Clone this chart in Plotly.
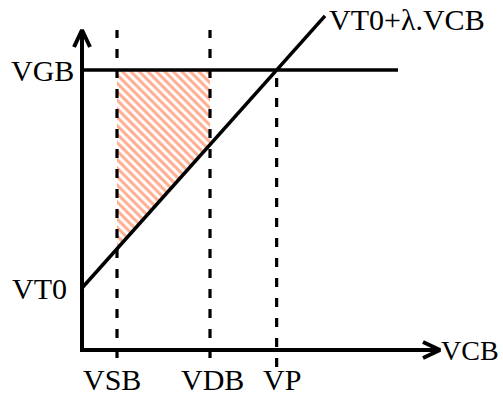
import plotly.graph_objects as go

# Characteristic values (arbitrary units along VCB and the gate-voltage axis)
VT0 = 62          # threshold voltage at VCB = 0
VGB = 280         # gate voltage
LAMBDA = 1.12     # slope of the threshold line
VSB = 35          # source-bulk voltage
VDB = 128         # drain-bulk voltage
VCB_END = 243     # where the threshold line stops
X_AXIS_END = 358  # length of the VCB axis
Y_AXIS_END = 320  # length of the vertical axis
VGB_LINE_END = 316

VP = (VGB - VT0) / LAMBDA  # pinch-off voltage: VT0 + λ·VP = VGB


def vt(vcb):
    return VT0 + LAMBDA * vcb


BLACK = "#000000"
HATCH = "#ff5a1f"
FAMILY = "'Liberation Serif', 'Times New Roman', serif"
FONT = dict(family=FAMILY, size=30, color=BLACK)

fig = go.Figure()

# Hatched region between VSB and VDB, above the threshold line and below VGB
fig.add_trace(go.Scatter(
    x=[VSB, VDB, VDB, VSB, VSB],
    y=[VGB, VGB, vt(VDB), vt(VSB), VGB],
    mode="lines", fill="toself", line=dict(width=0),
    fillcolor="rgba(255,255,255,0)",
    fillpattern=dict(shape="\\", fgcolor=HATCH, bgcolor="rgba(255,255,255,0)",
                     size=6, solidity=0.5),
    hoverinfo="skip", showlegend=False,
))

# Vertical dashed guides
for xv, y0, y1 in [(VSB, -8, Y_AXIS_END), (VDB, -8, Y_AXIS_END), (VP, -17, VGB)]:
    fig.add_trace(go.Scatter(
        x=[xv, xv], y=[y0, y1], mode="lines",
        line=dict(color=BLACK, width=3.2, dash="9px,11px"),
        hoverinfo="skip", showlegend=False,
    ))

# VGB level
fig.add_trace(go.Scatter(
    x=[0, VGB_LINE_END], y=[VGB, VGB], mode="lines",
    line=dict(color=BLACK, width=3.5), hoverinfo="skip", showlegend=False,
))

# Threshold line VT0 + λ·VCB
fig.add_trace(go.Scatter(
    x=[0, VCB_END], y=[vt(0), vt(VCB_END)], mode="lines",
    line=dict(color=BLACK, width=3.5), hoverinfo="skip", showlegend=False,
))

# Axes with open arrow heads
fig.add_trace(go.Scatter(
    x=[0, 0, None, -8, 0, 8], y=[-2, Y_AXIS_END, None, Y_AXIS_END - 17, Y_AXIS_END, Y_AXIS_END - 17],
    mode="lines", line=dict(color=BLACK, width=4),
    hoverinfo="skip", showlegend=False,
))
fig.add_trace(go.Scatter(
    x=[-2, X_AXIS_END, None, X_AXIS_END - 17, X_AXIS_END, X_AXIS_END - 17],
    y=[0, 0, None, 8, 0, -8],
    mode="lines", line=dict(color=BLACK, width=4),
    hoverinfo="skip", showlegend=False,
))

# Bottom labels sit on the lower edge of the figure
BOTTOM = -48
labels = [
    dict(x=-6, y=VGB, text="VGB", xanchor="right", yanchor="middle"),
    dict(x=-13, y=VT0, text="VT0", xanchor="right", yanchor="middle"),
    dict(x=VSB, y=BOTTOM, text="VSB", xanchor="center", yanchor="bottom", xshift=-5),
    dict(x=VDB, y=BOTTOM, text="VDB", xanchor="center", yanchor="bottom", xshift=2),
    dict(x=VP, y=BOTTOM, text="VP", xanchor="center", yanchor="bottom", xshift=5),
    dict(x=X_AXIS_END, y=0, text="VCB", xanchor="left", yanchor="middle", xshift=-1,
         font=dict(family=FAMILY, size=28, color=BLACK)),
    dict(x=VCB_END, y=vt(VCB_END), text="VT0+λ.VCB", xanchor="left", yanchor="middle",
         xshift=2, yshift=-4),
]
for lab in labels:
    lab.setdefault("font", FONT)
    fig.add_annotation(xref="x", yref="y", showarrow=False, **lab)

fig.update_xaxes(range=[-82, 421], visible=False, fixedrange=True)
fig.update_yaxes(range=[-49, 350], visible=False, fixedrange=True)
fig.update_layout(
    width=503, height=399,
    margin=dict(l=0, r=0, t=0, b=0, pad=0),
    paper_bgcolor="white", plot_bgcolor="white",
    showlegend=False,
)

fig.write_html("out.html", config={"displayModeBar": False})
